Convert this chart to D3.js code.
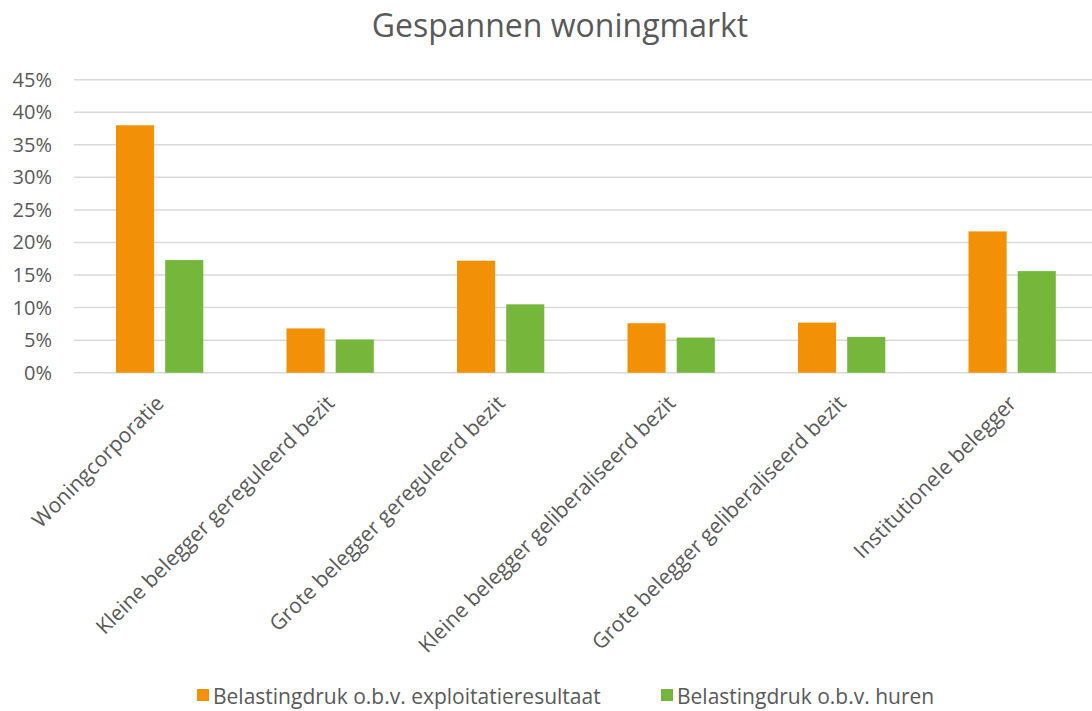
<!DOCTYPE html>
<html>
<head>
<meta charset="utf-8">
<script src="https://cdn.jsdelivr.net/npm/d3@7"></script>
<style>
  body { margin: 0; background: #fff; }
  text { font-family: "Open Sans", sans-serif; fill: #595959; }
</style>
</head>
<body>
<svg></svg>
<script>
width = 1092;
height = 711;

categories = [
  'Woningcorporatie',
  'Kleine belegger gereguleerd bezit',
  'Grote belegger gereguleerd bezit',
  'Kleine belegger geliberaliseerd bezit',
  'Grote belegger geliberaliseerd bezit',
  'Institutionele belegger'
];
seriesNames = ['Belastingdruk o.b.v. exploitatieresultaat', 'Belastingdruk o.b.v. huren'];
exploitatie = [0.380, 0.068, 0.172, 0.076, 0.077, 0.217];
huren = [0.173, 0.051, 0.105, 0.054, 0.055, 0.156];
yTicks = [0, 0.05, 0.10, 0.15, 0.20, 0.25, 0.30, 0.35, 0.40, 0.45];
colors = ['#F29105', '#74B73A'];

data = categories.map((c, i) => ({ cat: c, values: [exploitatie[i], huren[i]] }));

svg = d3.select('svg')
  .attr('width', width)
  .attr('height', height);

x0 = d3.scaleBand().domain(categories).range([74.4, 1097.4]);
x1 = d3.scaleBand().domain([0, 1]).range([41.6, 128.9]).paddingInner(0.225);
y = d3.scaleLinear().domain([0, 0.45]).range([372.7, 79.7]);

// grid
svg.append('g')
  .selectAll('line')
  .data(yTicks)
  .enter().append('line')
  .attr('x1', 74)
  .attr('x2', width)
  .attr('y1', d => y(d))
  .attr('y2', d => y(d))
  .attr('stroke', '#D9D9D9')
  .attr('stroke-width', 1.5);

// y labels
svg.append('g')
  .selectAll('text')
  .data(yTicks)
  .enter().append('text')
  .attr('x', 52)
  .attr('y', d => y(d))
  .attr('dy', '0.35em')
  .attr('text-anchor', 'end')
  .style('font-size', '20px')
  .text(d => d3.format('.0%')(d));

// bars
groups = svg.selectAll('.grp')
  .data(data)
  .enter().append('g')
  .attr('transform', d => `translate(${x0(d.cat)},0)`);

groups.selectAll('rect')
  .data(d => d.values.map((v, k) => ({ k, v })))
  .enter().append('rect')
  .attr('x', d => x1(d.k))
  .attr('width', x1.bandwidth())
  .attr('y', d => y(d.v))
  .attr('height', d => y(0) - y(d.v))
  .attr('fill', d => colors[d.k]);

// x labels
svg.append('g')
  .selectAll('text')
  .data(categories)
  .enter().append('text')
  .attr('text-anchor', 'end')
  .attr('transform', d => `translate(${x0(d) + x0.bandwidth() / 2 - 5},394) rotate(-45)`)
  .attr('dy', '0.71em')
  .style('font-size', '21px')
  .text(d => d);

// title
svg.append('text')
  .attr('x', width / 2 + 14)
  .attr('y', 37)
  .attr('text-anchor', 'middle')
  .style('font-size', '32px')
  .text('Gespannen woningmarkt');

// legend
legendX = [197, 661];
legend = svg.selectAll('.leg')
  .data(seriesNames)
  .enter().append('g')
  .attr('transform', (d, i) => `translate(${legendX[i]},689)`);
legend.append('rect')
  .attr('width', 12)
  .attr('height', 12)
  .attr('fill', (d, i) => colors[i]);
legend.append('text')
  .attr('x', 16)
  .attr('y', 15)
  .style('font-size', '21px')
  .text(d => d);
</script>
</body>
</html>
